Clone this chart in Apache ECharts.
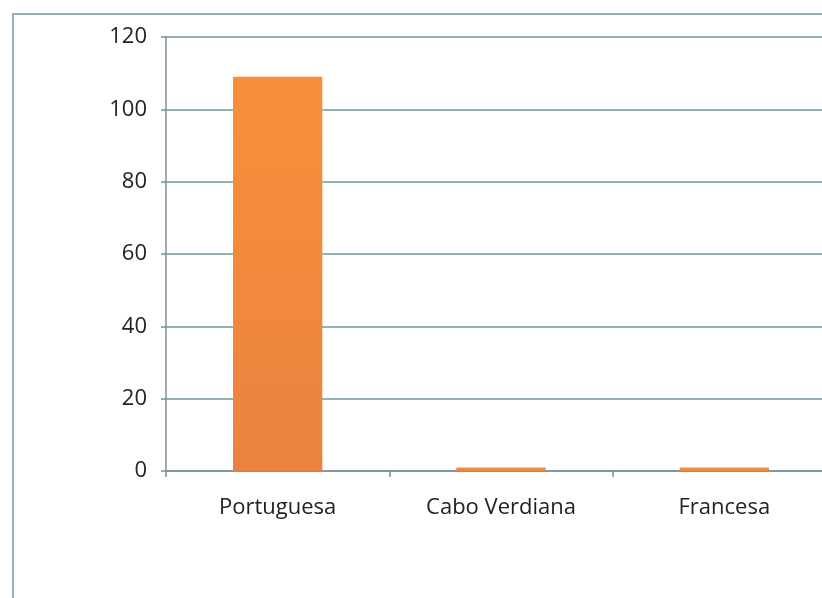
<!DOCTYPE html>
<html>
<head>
<meta charset="utf-8">
<script src="https://cdn.jsdelivr.net/npm/echarts@6/dist/echarts.min.js"></script>
<style>
html,body{margin:0;padding:0;background:#fff;}
#chart{width:822px;height:598px;}
</style>
</head>
<body>
<div id="chart"></div>
<script>
const categories = ['Portuguesa', 'Cabo Verdiana', 'Francesa'];
const values = [109, 1, 1];
const yTicks = { min: 0, max: 120, interval: 20 };

const chart = echarts.init(document.getElementById('chart'), null, { renderer: 'canvas' });
const lineColor = '#6f9aa6';
chart.setOption({
  animation: false,
  backgroundColor: '#ffffff',
  graphic: [{
    type: 'rect',
    shape: { x: 13, y: 14, width: 900, height: 700 },
    style: { fill: 'none', stroke: lineColor, lineWidth: 1.5 },
    silent: true
  }],
  grid: { left: 166, top: 37, width: 670, height: 434, containLabel: false, outerBoundsMode: 'none' },
  xAxis: {
    type: 'category',
    data: categories,
    axisLine: { lineStyle: { color: '#7d8f96', width: 1.5 } },
    axisTick: { show: true, length: 6, lineStyle: { color: '#7d8f96', width: 1.5 } },
    axisLabel: { color: '#222', fontSize: 22, fontFamily: 'Open Sans', margin: 26 }
  },
  yAxis: {
    type: 'value',
    min: yTicks.min, max: yTicks.max, interval: yTicks.interval,
    axisLine: { show: true, lineStyle: { color: '#7d8f96', width: 1.5 } },
    axisTick: { show: true, length: 5, lineStyle: { color: '#7d8f96', width: 1.5 } },
    splitLine: { lineStyle: { color: lineColor, width: 1.5 } },
    axisLabel: { color: '#222', fontSize: 22, fontFamily: 'Open Sans', margin: 19 }
  },
  series: [{
    type: 'bar',
    data: values,
    barWidth: '40%',
    itemStyle: {
      color: new echarts.graphic.LinearGradient(0, 0, 0, 1, [
        { offset: 0, color: '#f8903a' },
        { offset: 1, color: '#eb8240' }
      ])
    }
  }]
});
</script>
</body>
</html>
